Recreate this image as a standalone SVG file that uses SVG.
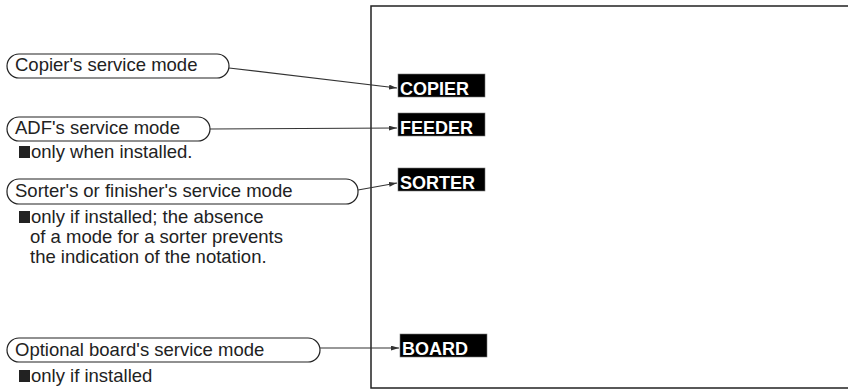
<svg xmlns="http://www.w3.org/2000/svg" width="848" height="390" viewBox="0 0 848 390">
<defs>
<style>
.pill{fill:#fff;stroke:#222;stroke-width:1.2}
.pt{font-family:"Liberation Sans",Arial,sans-serif;font-size:18.5px;fill:#222}
.note{font-family:"Liberation Sans",Arial,sans-serif;font-size:18.5px;fill:#222}
.sq{fill:#222}
.lbl{fill:#000;stroke:#777;stroke-width:0.6}
.lt{font-family:"Liberation Sans",Arial,sans-serif;font-size:18px;font-weight:bold;fill:#fff}
.con{fill:none;stroke:#333;stroke-width:1.2;marker-end:url(#ah)}
</style>
<marker id="ah" viewBox="0 0 10 6" refX="10" refY="3" markerWidth="8" markerHeight="5" markerUnits="userSpaceOnUse" orient="auto">
<path d="M0,0 L10,3 L0,6 Z" fill="#333"/>
</marker>
</defs>
<rect x="371" y="6" width="490" height="382" fill="none" stroke="#222" stroke-width="1.5"/>
<g id="copier-mode">
<rect class="pill" x="7" y="54" width="222" height="24" rx="12"/>
<text class="pt" x="15" y="71">Copier's service mode</text>
</g>
<g id="adf-mode">
<rect class="pill" x="7" y="117" width="203" height="24" rx="12"/>
<text class="pt" x="15" y="134">ADF's service mode</text>
<rect class="sq" x="19" y="146" width="11" height="12"/>
<text class="note" x="31" y="158">only when installed.</text>
</g>
<g id="sorter-mode">
<rect class="pill" x="7" y="179" width="351" height="25" rx="12"/>
<text class="pt" x="15" y="197">Sorter's or finisher's service mode</text>
<rect class="sq" x="19" y="211" width="11" height="12"/>
<text class="note" x="31" y="223">only if installed; the absence</text>
<text class="note" x="30" y="243">of a mode for a sorter prevents</text>
<text class="note" x="30" y="263">the indication of the notation.</text>
</g>
<g id="board-mode">
<rect class="pill" x="7" y="338" width="313" height="24" rx="12"/>
<text class="pt" x="15" y="356">Optional board's service mode</text>
<rect class="sq" x="19" y="370" width="11" height="12"/>
<text class="note" x="31" y="382">only if installed</text>
</g>
<g id="copier">
<rect class="lbl" x="398" y="74" width="87" height="23"/>
<text class="lt" x="400" y="95">COPIER</text>
</g>
<g id="feeder">
<rect class="lbl" x="398" y="113" width="87" height="23"/>
<text class="lt" x="400" y="134">FEEDER</text>
</g>
<g id="sorter">
<rect class="lbl" x="398" y="168" width="87" height="23"/>
<text class="lt" x="400" y="189">SORTER</text>
</g>
<g id="board">
<rect class="lbl" x="400" y="334" width="87" height="23"/>
<text class="lt" x="402" y="355">BOARD</text>
</g>
<g id="connectors">
<path class="con" d="M229,68 L397,88"/>
<path class="con" d="M210,129 L397,128"/>
<path class="con" d="M358,190 L397,183"/>
<path class="con" d="M320,348 L399,348"/>
</g>
</svg>
